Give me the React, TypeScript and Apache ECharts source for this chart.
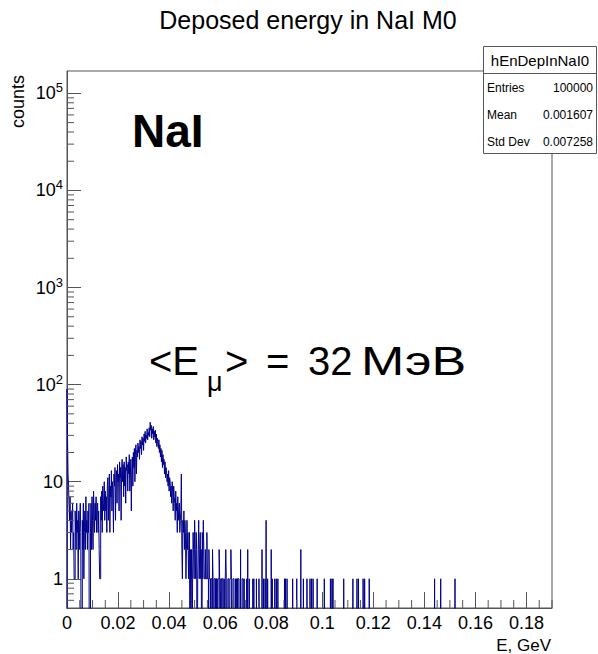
import React, { useEffect, useRef } from 'react';
import * as echarts from 'echarts';

const FONT = '"Liberation Sans", Arial, Helvetica, sans-serif';

const TITLE = 'Deposed energy in NaI M0';
const X_NAME = 'E, GeV';
const Y_NAME = 'counts';
const LABEL_MAIN = 'NaI';
const FORMULA_PARTS = ['<E', 'μ', '>', '=', '32', 'МэВ'];
const STATS_TITLE = 'hEnDepInNaI0';
const STATS_NAMES = ['Entries', 'Mean', 'Std Dev'];
const STATS_VALUES = ['100000', '0.001607', '0.007258'];

const X_MIN = 0;
const X_MAX = 0.19;
const X_STEP = 0.02;
const X_MINOR_STEP = 0.005;
const Y_MIN = 0.5;
const Y_MAX = 1.7e5;
const Y_DECADES = [0, 1, 2, 3, 4, 5];
const Y_DECADE_LABELS = ['1', '10', '10', '10', '10', '10'];
const Y_DECADE_SUPS = ['', '', '2', '3', '4', '5'];

const BIN_WIDTH = 0.0002;
const N_BINS = 950;

// counts of bins 0..335 (bin width 0.0002 GeV)
const DENSE_COUNTS = [
  90, 30, 12, 9, 6, 4, 7, 2, 5, 3, 4, 6, 2, 3, 1, 1, 5, 3, 2, 6,
  3, 4, 1, 5, 2, 4, 6, 3, 0, 0, 4, 2, 6, 1, 3, 5, 2, 7, 3, 4,
  2, 5, 3, 6, 0, 0, 3, 6, 2, 7, 4, 2, 8, 5, 3, 6, 4, 7, 3, 5,
  6, 3, 5, 2, 1, 1, 7, 4, 8, 3, 9, 5, 6, 10, 4, 8, 5, 7, 3, 9,
  11, 4, 8, 12, 3, 9, 7, 13, 5, 10, 8, 3, 12, 9, 14, 4, 11, 13, 6, 15,
  10, 12, 5, 16, 11, 14, 4, 13, 17, 10, 15, 7, 16, 9, 14, 6, 18, 13, 15, 8,
  16, 12, 19, 8, 11, 17, 5, 13, 18, 9, 20, 14, 22, 10, 19, 24, 12, 21, 18, 25,
  20, 23, 17, 27, 22, 26, 19, 29, 24, 28, 21, 31, 26, 33, 25, 30, 28, 35, 27, 32,
  30, 36, 29, 41, 34, 38, 28, 35, 31, 37, 27, 33, 29, 34, 25, 31, 23, 28, 26, 22,
  27, 20, 24, 18, 22, 16, 21, 14, 19, 15, 17, 12, 16, 11, 14, 13, 10, 12, 9, 13,
  8, 11, 10, 7, 9, 6, 10, 8, 5, 9, 7, 6, 4, 8, 5, 6, 3, 7, 4, 5,
  6, 3, 4, 5, 12, 2, 1, 4, 3, 5, 2, 4, 3, 1, 2, 4, 2, 3, 1, 2,
  3, 0, 2, 1, 2, 0, 1, 3, 2, 1, 4, 2, 1, 3, 2, 0, 1, 2, 4, 1,
  2, 3, 1, 2, 0, 3, 1, 4, 2, 1, 1, 2, 1, 1, 3, 1, 1, 0, 2, 1,
  1, 0, 1, 1, 0, 2, 1, 0, 1, 1, 0, 1, 1, 0, 1, 0, 1, 1, 2, 1,
  0, 1, 1, 0, 1, 1, 0, 0, 1, 0, 1, 2, 1, 0, 0, 1, 1, 0, 0, 1,
  1, 2, 1, 0, 0, 1, 1, 1, 0, 0, 1, 0, 1, 1, 0, 1,
];

// sparse tail: [bin index, count]
const TAIL_BINS: [number, number][] = [
  [336, 1], [340, 2], [343, 1], [344, 1], [347, 1], [352, 1], [354, 2], [357, 1],
  [364, 1], [366, 1], [371, 1], [376, 1], [382, 2], [385, 1], [388, 1], [390, 4],
  [393, 1], [400, 2], [402, 1], [407, 1], [410, 1], [413, 1], [426, 1], [428, 1],
  [431, 1], [442, 1], [450, 1], [458, 2], [463, 1], [470, 1], [476, 1], [479, 1],
  [482, 1], [490, 1], [504, 1], [516, 1], [519, 1], [521, 1], [542, 1], [560, 1],
  [568, 1], [571, 1], [580, 1], [583, 1], [592, 1], [720, 1], [732, 1], [760, 1],
];

const EMPTY = 0.01;
const LINE_COLOR = '#00008a';
const FRAME_COLOR = '#555';

function buildHist(): number[][] {
  const counts = new Array(N_BINS).fill(0);
  DENSE_COUNTS.forEach((c, i) => (counts[i] = c));
  TAIL_BINS.forEach(([b, c]) => (counts[b] = c));
  const pts: number[][] = [[0, EMPTY]];
  for (let i = 0; i < N_BINS; i++) {
    pts.push([+(i * BIN_WIDTH).toFixed(6), counts[i] > 0 ? counts[i] : EMPTY]);
  }
  pts.push([+(N_BINS * BIN_WIDTH).toFixed(6), EMPTY]);
  return pts;
}

function buildXMinor(): number[][] {
  const out: number[][] = [];
  const n = Math.round((X_MAX - X_MIN) / X_MINOR_STEP);
  const ratio = Math.round(X_STEP / X_MINOR_STEP);
  for (let i = 1; i <= n; i++) {
    if (i % ratio === 0) continue;
    out.push([+(X_MIN + i * X_MINOR_STEP).toFixed(4), Y_MIN]);
  }
  return out;
}

function buildYMinor(): number[][] {
  const out: number[][] = [];
  for (let k = -1; k <= 5; k++) {
    for (let m = 2; m <= 9; m++) {
      const v = m * Math.pow(10, k);
      if (v > Y_MIN && v < Y_MAX) out.push([X_MIN, v]);
    }
  }
  return out;
}

export default function App() {
  const ref = useRef<HTMLDivElement>(null);
  useEffect(() => {
    document.body.style.margin = '0';
    const chart = echarts.init(ref.current!, null, { renderer: 'svg' });
    const tickRender = (len: number, vertical: boolean) => (params: any, api: any) => {
      const p = api.coord([api.value(0), api.value(1)]);
      return {
        type: 'line',
        shape: vertical
          ? { x1: p[0], y1: p[1], x2: p[0], y2: p[1] - len }
          : { x1: p[0], y1: p[1], x2: p[0] + len, y2: p[1] },
        style: { stroke: FRAME_COLOR, lineWidth: 1 },
        silent: true,
      };
    };
    const big = `40px ${FONT}`;
    const option: any = {
      animation: false,
      backgroundColor: '#fff',
      textStyle: { fontFamily: FONT },
      grid: {
        left: 67, right: 46, top: 71, bottom: 46,
        show: true, borderColor: FRAME_COLOR, borderWidth: 1, backgroundColor: 'transparent',
      },
      xAxis: {
        type: 'value',
        min: X_MIN, max: X_MAX, interval: X_STEP,
        axisLine: { show: true, lineStyle: { color: FRAME_COLOR } },
        axisTick: { show: true, inside: true, length: 16, lineStyle: { color: FRAME_COLOR } },
        splitLine: { show: false },
        axisLabel: {
          color: '#000', fontSize: 18, fontFamily: FONT, margin: 6,
          showMaxLabel: false,
          formatter: (v: number) => (v === 0 ? '0' : String(+v.toFixed(2))),
        },
      },
      yAxis: {
        type: 'log', logBase: 10,
        min: Y_MIN, max: Y_MAX,
        axisLine: { show: true, lineStyle: { color: FRAME_COLOR } },
        axisTick: { show: true, inside: true, length: 14, lineStyle: { color: FRAME_COLOR } },
        splitLine: { show: false },
        axisLabel: {
          color: '#000', fontFamily: FONT, margin: 4,
          showMinLabel: false, showMaxLabel: false,
          formatter: (v: number) => {
            const k = Math.round(Math.log10(v));
            const idx = Y_DECADES.indexOf(k);
            if (idx < 0) return '';
            const sup = Y_DECADE_SUPS[idx];
            return sup ? `{b|${Y_DECADE_LABELS[idx]}}{s|${sup}}` : `{b|${Y_DECADE_LABELS[idx]}}`;
          },
          rich: {
            b: { fontSize: 18, fontFamily: FONT, lineHeight: 24, verticalAlign: 'middle', color: '#000' },
            s: { fontSize: 13, fontFamily: FONT, lineHeight: 13, verticalAlign: 'top', color: '#000' },
          },
        },
      },
      series: [
        {
          type: 'line',
          data: buildHist(),
          step: 'end',
          showSymbol: false,
          symbol: 'none',
          clip: true,
          lineStyle: { color: LINE_COLOR, width: 1 },
          silent: true,
          z: 3,
        },
        {
          type: 'custom',
          data: buildXMinor(),
          renderItem: tickRender(8, true),
          silent: true,
          z: 4,
        },
        {
          type: 'custom',
          data: buildYMinor(),
          renderItem: tickRender(7, false),
          silent: true,
          z: 4,
        },
      ],
      graphic: [
        {
          type: 'text', x: 308, y: 20, z: 100,
          style: { text: TITLE, font: `25px ${FONT}`, fill: '#000', align: 'center', verticalAlign: 'middle' },
        },
        {
          type: 'text', x: 18, y: 75, rotation: Math.PI / 2, z: 100,
          style: { text: Y_NAME, font: `18px ${FONT}`, fill: '#000', align: 'right', verticalAlign: 'middle' },
        },
        {
          type: 'text', x: 551, y: 645, z: 100,
          style: { text: X_NAME, font: `17px ${FONT}`, fill: '#000', align: 'right', verticalAlign: 'middle' },
        },
        {
          type: 'text', x: 132, y: 131, z: 100,
          style: { text: LABEL_MAIN, font: `bold 46px ${FONT}`, fill: '#000', align: 'left', verticalAlign: 'middle' },
        },
        {
          type: 'text', x: 149, y: 361, z: 100,
          style: { text: FORMULA_PARTS[0], font: big, fill: '#000', align: 'left', verticalAlign: 'middle' },
        },
        {
          type: 'text', x: 207, y: 382, z: 100,
          style: { text: FORMULA_PARTS[1], font: `27px ${FONT}`, fill: '#000', align: 'left', verticalAlign: 'middle' },
        },
        {
          type: 'text', x: 225, y: 361, z: 100,
          style: { text: FORMULA_PARTS[2], font: big, fill: '#000', align: 'left', verticalAlign: 'middle' },
        },
        {
          type: 'text', x: 266, y: 361, z: 100,
          style: { text: FORMULA_PARTS[3], font: big, fill: '#000', align: 'left', verticalAlign: 'middle' },
        },
        {
          type: 'text', x: 308, y: 361, z: 100,
          style: { text: FORMULA_PARTS[4], font: big, fill: '#000', align: 'left', verticalAlign: 'middle' },
        },
        {
          type: 'text', x: 361, y: 361, z: 100, scaleX: 1.3,
          style: { text: FORMULA_PARTS[5], font: big, fill: '#000', align: 'left', verticalAlign: 'middle' },
        },
        {
          type: 'rect', z: 100,
          shape: { x: 483.5, y: 46.5, width: 113, height: 107 },
          style: { fill: '#fff', stroke: FRAME_COLOR, lineWidth: 1 },
        },
        {
          type: 'line', z: 101,
          shape: { x1: 483.5, y1: 73.5, x2: 596.5, y2: 73.5 },
          style: { stroke: FRAME_COLOR, lineWidth: 1 },
        },
        {
          type: 'text', x: 540, y: 60, z: 101,
          style: { text: STATS_TITLE, font: `15px ${FONT}`, fill: '#000', align: 'center', verticalAlign: 'middle' },
        },
        ...STATS_NAMES.map((n, i) => ({
          type: 'text', x: 487, y: 88 + i * 27, z: 101,
          style: { text: n, font: `12px ${FONT}`, fill: '#000', align: 'left', verticalAlign: 'middle' },
        })),
        ...STATS_VALUES.map((v, i) => ({
          type: 'text', x: 593, y: 88 + i * 27, z: 101,
          style: { text: v, font: `12px ${FONT}`, fill: '#000', align: 'right', verticalAlign: 'middle' },
        })),
      ],
    };
    chart.setOption(option);
    return () => chart.dispose();
  }, []);
  return <div ref={ref} style={{ width: 598, height: 654 }} />;
}
